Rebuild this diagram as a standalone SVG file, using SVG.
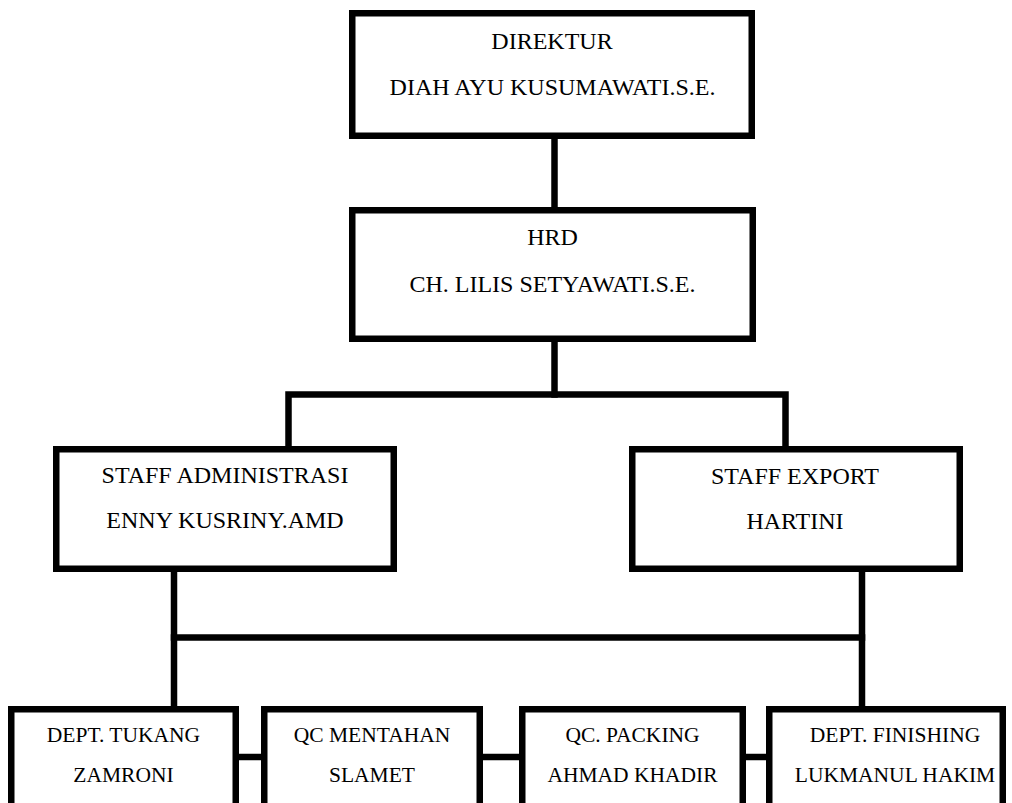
<svg xmlns="http://www.w3.org/2000/svg" width="1012" height="803" viewBox="0 0 1012 803">
<style>
.box{fill:#fff;stroke:#000;stroke-width:6.5}
.ln{fill:none;stroke:#000;stroke-width:6.5;stroke-linecap:square;stroke-linejoin:miter}
.t{font-family:'Liberation Serif','Times New Roman','DejaVu Serif',serif;font-size:24px;fill:#000;text-anchor:middle}
.s{font-family:'Liberation Serif','Times New Roman','DejaVu Serif',serif;font-size:21.5px;fill:#000;text-anchor:middle}
</style>
<rect width="1012" height="803" fill="#fff"/>
<g id="connectors">
<path class="ln" d="M554.5 139 V207"/>
<path class="ln" d="M554.5 342 V394.5"/>
<path class="ln" d="M288.5 446 V394.5 H785.5 V446"/>
<path class="ln" d="M174 572 V706"/>
<path class="ln" d="M862 572 V706"/>
<path class="ln" d="M174 637.5 H862"/>
<path class="ln" d="M239 757 H261"/>
<path class="ln" d="M483 757 H519"/>
<path class="ln" d="M746 757 H766"/>
</g>
<g id="direktur">
<rect class="box" x="352.25" y="13.25" width="399.5" height="122.5"/>
<text class="t" x="552" y="49" font-family="Liberation Serif, serif">DIREKTUR</text>
<text class="t" x="552.5" y="95" font-family="Liberation Serif, serif">DIAH AYU KUSUMAWATI.S.E.</text>
</g>
<g id="hrd">
<rect class="box" x="352.25" y="210.25" width="400.5" height="128.5"/>
<text class="t" x="552.5" y="245">HRD</text>
<text class="t" x="552.5" y="292">CH. LILIS SETYAWATI.S.E.</text>
</g>
<g id="staff-admin">
<rect class="box" x="56.25" y="449.25" width="337.5" height="119.5"/>
<text class="t" x="225" y="483">STAFF ADMINISTRASI</text>
<text class="t" x="225" y="528">ENNY KUSRINY.AMD</text>
</g>
<g id="staff-export">
<rect class="box" x="632.25" y="449.25" width="327.5" height="119.5"/>
<text class="t" x="795" y="484">STAFF EXPORT</text>
<text class="t" x="795" y="529">HARTINI</text>
</g>
<g id="dept-tukang">
<rect class="box" x="11.25" y="709.25" width="224.5" height="120"/>
<text class="s" x="123.5" y="742">DEPT. TUKANG</text>
<text class="s" x="123.5" y="782">ZAMRONI</text>
</g>
<g id="qc-mentahan">
<rect class="box" x="264.25" y="709.25" width="215.5" height="120"/>
<text class="s" x="372" y="742">QC MENTAHAN</text>
<text class="s" x="372" y="782">SLAMET</text>
</g>
<g id="qc-packing">
<rect class="box" x="522.25" y="709.25" width="220.5" height="120"/>
<text class="s" x="632.5" y="742">QC. PACKING</text>
<text class="s" x="632.5" y="782">AHMAD KHADIR</text>
</g>
<g id="dept-finishing">
<rect class="box" x="769.25" y="709.25" width="233.5" height="120"/>
<text class="s" x="895" y="742">DEPT. FINISHING</text>
<text class="s" x="895" y="782">LUKMANUL HAKIM</text>
</g>
</svg>
